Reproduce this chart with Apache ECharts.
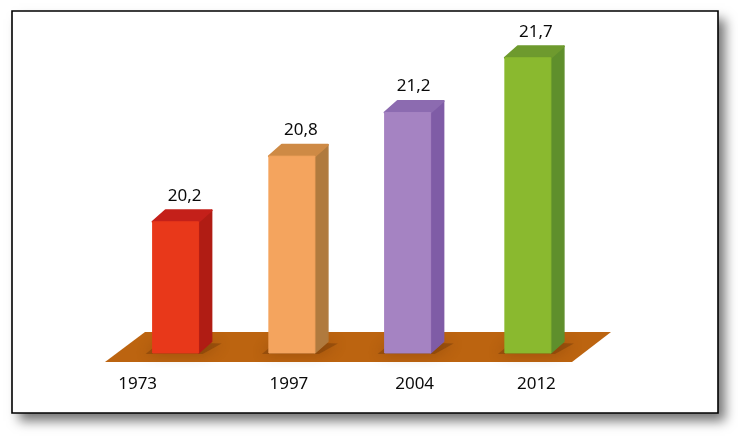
<!DOCTYPE html>
<html>
<head>
<meta charset="utf-8">
<style>html,body{margin:0;padding:0;background:#fff}#c{width:738px;height:436px}</style>
<script src="https://cdn.jsdelivr.net/npm/echarts@6/dist/echarts.min.js"></script>
</head>
<body>
<div id="c"></div>
<script>
const categories = ['1973', '1997', '2004', '2012'];
const values = [20.2, 20.8, 21.2, 21.7];
const valueLabels = ['20,2', '20,8', '21,2', '21,7'];
const frontColors = ['#E8381A', '#F4A45E', '#A583C2', '#8AB92F'];
const sideColors = ['#B01C14', '#B07A3E', '#7F5CA6', '#5F8F2C'];
const topColors = ['#C4201A', '#CE8A45', '#8C6BB0', '#6E9A2E'];

const barNudge = [0, -1, -2.5, 0.5];
const tickNudge = [-38, -4, 4.5, 9];
const valueNudge = [1, 1, -2, 0];
const barW = 46, depthX = 13, depthY = 11.5;
const fontFamily = '"Noto Sans", sans-serif';

const chart = echarts.init(document.getElementById('c'), null, {renderer: 'canvas'});

function renderBar(params, api) {
  const i = api.value(0);
  const top = api.coord([i, api.value(1)]);
  const base = api.coord([i, 19]);
  const l = top[0] + barNudge[i] - barW / 2, r = l + barW;
  const t = top[1], b = base[1];
  const poly = (points, fill, extra) => ({
    type: 'polygon',
    shape: {points},
    style: Object.assign({fill, stroke: fill, lineWidth: 1, lineJoin: 'round'}, extra || {})
  });
  return {
    type: 'group',
    children: [
      poly([[l - 7, b + 1], [r + 4, b + 1], [r + depthX + 10, b - depthY + 2], [l + 8, b - depthY]], 'rgba(95,45,5,0.35)',
        {shadowBlur: 14, shadowColor: 'rgba(80,35,0,0.9)', lineWidth: 0, stroke: null}),
      poly([[r, t], [r + depthX, t - depthY], [r + depthX, b - depthY], [r, b]], sideColors[i], {lineWidth: 1.5}),
      poly([[l, t], [l + depthX, t - depthY], [r + depthX, t - depthY], [r, t]], topColors[i], {lineWidth: 2}),
      poly([[l, t], [r, t], [r, b], [l, b]], frontColors[i]),
      {
        type: 'text',
        style: {
          x: l + barW / 2 + 8 + valueNudge[i], y: t - 26, text: valueLabels[i],
          font: '17px ' + fontFamily, fill: '#0a0a0a', align: 'center', verticalAlign: 'middle'
        }
      }
    ]
  };
}

function tickPadding(n) {
  return n > 0 ? [0, 0, 0, n * 2] : [0, -n * 2, 0, 0];
}

chart.setOption({
  animation: false,
  backgroundColor: '#fff',
  graphic: [
    {type: 'rect', z: -11, shape: {x: 12, y: 11, width: 706, height: 402},
      style: {fill: '#fff', shadowBlur: 11, shadowOffsetX: 7, shadowOffsetY: 8, shadowColor: 'rgba(0,0,0,0.55)'}},
    {type: 'rect', z: -10, shape: {x: 12, y: 11, width: 706, height: 402},
      style: {fill: '#fff', stroke: '#000', lineWidth: 1.6}},
    {type: 'polygon', z: -5, shape: {points: [[105, 362], [145, 332], [611, 332], [572, 362]]},
      style: {fill: '#BC6410'}}
  ],
  grid: {left: 117, right: 152, top: 25, bottom: 83},
  xAxis: {
    type: 'category',
    data: categories.map((c, i) => ({value: c, textStyle: {padding: tickPadding(tickNudge[i])}})),
    axisLine: {show: false},
    axisTick: {show: false},
    axisLabel: {margin: 23, fontFamily, fontSize: 17, color: '#0a0a0a', interval: 0}
  },
  yAxis: {type: 'value', min: 19, max: 22, interval: 1, show: false, splitLine: {show: false}},
  series: [{
    type: 'custom',
    renderItem: renderBar,
    clip: false,
    encode: {x: 0, y: 1},
    data: values.map((v, i) => [i, v])
  }]
});
</script>
</body>
</html>
